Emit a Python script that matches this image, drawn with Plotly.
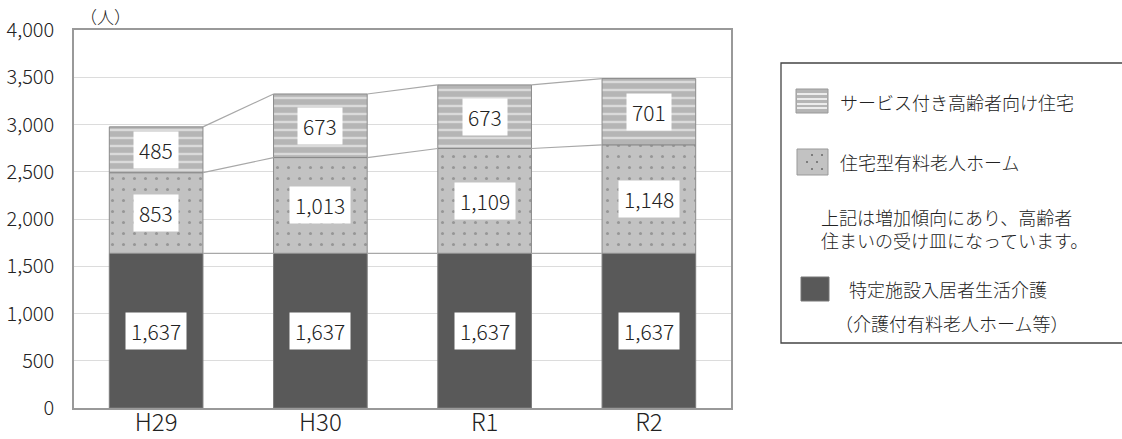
import plotly.graph_objects as go

categories = ["H29", "H30", "R1", "R2"]
tokutei = [1637, 1637, 1637, 1637]          # 特定施設入居者生活介護
jutaku_yuryo = [853, 1013, 1109, 1148]      # 住宅型有料老人ホーム
sakoju = [485, 673, 673, 701]               # サービス付き高齢者向け住宅
y_ticks = [0, 500, 1000, 1500, 2000, 2500, 3000, 3500, 4000]

FONT = "Noto Sans CJK JP"
WT = 300
W, H = 1122, 439
L, R, T, B = 74, 391, 30, 31
PW, PH = W - L - R, H - T - B
BAR_W = 0.57

def px(x):
    return (x - L) / PW

def py(y):
    return (H - B - y) / PH

xs = list(range(len(categories)))
fig = go.Figure()

series = [
    ("特定施設入居者生活介護", tokutei, dict(color="#595959", line=dict(color="#7a7a7a", width=1))),
    ("住宅型有料老人ホーム", jutaku_yuryo, dict(color="#c2c2c2", line=dict(color="#8a8a8a", width=1),
                                        pattern=dict(shape=".", bgcolor="#c2c2c2", fgcolor="#6a6a6a",
                                                     size=11, solidity=0.06))),
    ("サービス付き高齢者向け住宅", sakoju, dict(color="#b5b5b5", line=dict(color="#8a8a8a", width=1),
                                        pattern=dict(shape="-", bgcolor="#b5b5b5", fgcolor="#ffffff",
                                                     size=8, solidity=0.3))),
]

bases = [0] * len(categories)
bounds = []
annots = []
for name, vals, marker in series:
    fig.add_trace(go.Bar(x=xs, y=vals, base=bases, width=BAR_W, marker=marker, name=name,
                         showlegend=False))
    for i, v in enumerate(vals):
        annots.append(dict(x=xs[i], y=bases[i] + v / 2, xref="x", yref="y", text=f"{v:,}",
                           showarrow=False, bgcolor="white", borderpad=5, height=26,
                           font=dict(family=FONT, size=21, color="#222", weight=WT)))
    bases = [b + v for b, v in zip(bases, vals)]
    bounds.append(list(bases))

# connector lines between bars
for lvl in bounds:
    for i in range(len(categories) - 1):
        fig.add_trace(go.Scatter(x=[xs[i] + BAR_W / 2, xs[i + 1] - BAR_W / 2], y=[lvl[i], lvl[i + 1]],
                                 mode="lines", line=dict(color="#a8a8a8", width=1.2),
                                 showlegend=False, hoverinfo="skip"))

# move data traces above connectors
fig.data = fig.data[3:] + fig.data[:3]

fig.update_layout(
    width=W, height=H, margin=dict(l=L, r=R, t=T, b=B, autoexpand=False),
    paper_bgcolor="white", plot_bgcolor="white", barmode="overlay",
    font=dict(family=FONT, color="#222", weight=WT),
    xaxis=dict(range=[-0.5, 3.5], tickvals=xs, ticktext=categories, showgrid=False, zeroline=False,
               showline=True, linecolor="#999", linewidth=1.5, mirror=True, automargin=False,
               tickfont=dict(size=24, color="#222", weight=WT), ticks="", ticklabelstandoff=-8),
    yaxis=dict(range=[0, 4000], tickvals=y_ticks, tickformat=",", showgrid=True, gridcolor="#dcdcdc",
               gridwidth=1.2, zeroline=False, showline=True, linecolor="#999", linewidth=1.5,
               mirror=True, automargin=False, tickfont=dict(size=20, color="#222", weight=WT),
               ticks="", ticklabelstandoff=14),
)

annots.append(dict(x=px(105), y=py(16), xref="paper", yref="paper", text="（人）", showarrow=False,
                   xanchor="center", yanchor="middle",
                   font=dict(family=FONT, size=17, color="#222", weight=WT)))

shapes = []
# legend box
shapes.append(dict(type="rect", xref="paper", yref="paper", x0=px(781), x1=px(1130), y0=py(343), y1=py(63),
                   line=dict(color="#444", width=1.3), fillcolor="white", layer="below"))
# swatch 1: striped
shapes.append(dict(type="rect", xref="paper", yref="paper", x0=px(796), x1=px(828), y0=py(113), y1=py(89),
                   line=dict(color="#999", width=1), fillcolor="#b5b5b5"))
for yy in [94, 99, 104, 108]:
    shapes.append(dict(type="line", xref="paper", yref="paper", x0=px(797), x1=px(827), y0=py(yy), y1=py(yy),
                       line=dict(color="white", width=1.5)))
# swatch 2: dotted
shapes.append(dict(type="rect", xref="paper", yref="paper", x0=px(797), x1=px(828), y0=py(175), y1=py(149),
                   line=dict(color="#999", width=1), fillcolor="#c2c2c2"))
for (dx, dy) in [(812, 155), (822, 155), (807, 162), (817, 162), (812, 169), (822, 169)]:
    shapes.append(dict(type="circle", xref="paper", yref="paper", x0=px(dx - 1), x1=px(dx + 1),
                       y0=py(dy + 1), y1=py(dy - 1), line=dict(width=0), fillcolor="#666"))
# swatch 3: solid
shapes.append(dict(type="rect", xref="paper", yref="paper", x0=px(801), x1=px(829), y0=py(301), y1=py(277),
                   line=dict(color="#777", width=1), fillcolor="#595959"))

legend_texts = [
    (838, 102, "サービス付き高齢者向け住宅"),
    (838, 162, "住宅型有料老人ホーム"),
    (819, 228, "上記は増加傾向にあり、高齢者<br>住まいの受け皿になっています。"),
    (847, 289, "特定施設入居者生活介護"),
    (833, 323, "（介護付有料老人ホーム等）"),
]
for x, y, t in legend_texts:
    annots.append(dict(x=px(x), y=py(y), xref="paper", yref="paper", text=t, showarrow=False,
                       xanchor="left", yanchor="middle", align="left",
                       font=dict(family=FONT, size=18, color="#222", weight=WT)))

fig.update_layout(annotations=annots, shapes=shapes)
fig.write_html("out.html")
